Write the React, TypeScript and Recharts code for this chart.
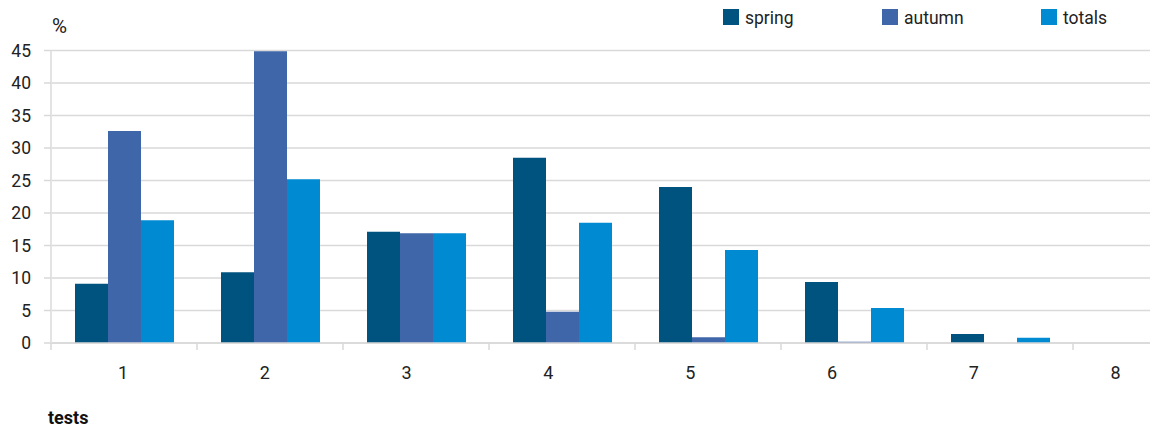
import { BarChart, Bar, XAxis, YAxis, CartesianGrid, Legend } from "recharts";

const tests = ["1", "2", "3", "4", "5", "6", "7", "8"];
const spring = [9.1, 10.9, 17.1, 28.5, 24.0, 9.4, 1.4, 0];
const autumn = [32.6, 44.9, 16.9, 4.8, 0.9, 0.2, 0, 0];
const totals = [18.9, 25.2, 16.9, 18.5, 14.3, 5.4, 0.8, 0];
const yTicks = [0, 5, 10, 15, 20, 25, 30, 35, 40, 45];

const series = [
  { key: "spring", color: "#00527F" },
  { key: "autumn", color: "#4066AA" },
  { key: "totals", color: "#008AD2" },
];

const data = tests.map((t, i) => ({
  test: t,
  spring: spring[i],
  autumn: autumn[i],
  totals: totals[i],
}));

// chart is wider than the window, the 8th group gets cut off like the original
const CHART_W = 1230;
const CHART_H = 430;
const MARGIN = { top: 50.5, right: 11, bottom: 47, left: 0 };
const Y_W = 51;
const band = (CHART_W - MARGIN.left - MARGIN.right - Y_W) / tests.length;

const FONT = "Roboto, 'Open Sans', sans-serif";
const GRID = "#d9d9d9";

function XTick(props: any) {
  const { x, y, payload, index } = props;
  return (
    <g>
      <line
        x1={x - band / 2}
        x2={x - band / 2}
        y1={y}
        y2={y + 7}
        stroke={GRID}
        strokeWidth={1.5}
      />
      <text
        x={x - 1 - 4.2 * index}
        y={y + 36}
        textAnchor="middle"
        fontSize={18}
        fontFamily={FONT}
        fill="#222"
      >
        {payload.value}
      </text>
    </g>
  );
}

function LegendBox() {
  return (
    <ul style={{ listStyle: "none", margin: 0, padding: 0, display: "flex" }}>
      {series.map((s) => (
        <li
          key={s.key}
          style={{
            display: "flex",
            alignItems: "flex-end",
            width: 159,
            fontFamily: FONT,
            fontSize: 17.5,
            color: "#222",
            lineHeight: "20px",
          }}
        >
          <span
            style={{
              display: "inline-block",
              width: 16,
              height: 16,
              background: s.color,
              marginRight: 6,
              marginBottom: 3,
            }}
          />
          <span>{s.key}</span>
        </li>
      ))}
    </ul>
  );
}

export default function App() {
  return (
    <div
      style={{
        position: "fixed",
        left: 0,
        top: 0,
        width: 1150,
        height: 430,
        overflow: "hidden",
        background: "#fff",
      }}
    >
      <BarChart
        width={CHART_W}
        height={CHART_H}
        data={data}
        margin={MARGIN}
        barCategoryGap={24}
        barGap={0}
      >
        <CartesianGrid vertical={false} stroke={GRID} strokeWidth={1.5} />
        <XAxis
          dataKey="test"
          interval={0}
          height={40}
          tickSize={0}
          tickMargin={0}
          tickLine={false}
          axisLine={{ stroke: GRID, strokeWidth: 1.5 }}
          tick={<XTick />}
          label={({ viewBox }: any) => (
            <text
              x={viewBox.x - 3}
              y={viewBox.y + 81}
              fontSize={18}
              fontWeight="bold"
              fontFamily={FONT}
              fill="#111"
            >
              tests
            </text>
          )}
        />
        <YAxis
          width={Y_W}
          domain={[0, 45]}
          ticks={yTicks}
          interval={0}
          tickSize={7}
          tickMargin={13}
          axisLine={{ stroke: "#e3e3e3", strokeWidth: 2 }}
          tickLine={{ stroke: GRID, strokeWidth: 1.5 }}
          tick={{ fontSize: 17.5, fontFamily: FONT, fill: "#222" }}
          label={({ viewBox }: any) => (
            <text
              x={viewBox.x + viewBox.width + 1}
              y={viewBox.y - 17.5}
              fontSize={20.5}
              fontFamily={FONT}
              fill="#222"
            >
              %
            </text>
          )}
        />
        <Legend
          verticalAlign="middle"
          align="center"
          content={() => <LegendBox />}
          wrapperStyle={{ top: 8, left: 723, width: 480 }}
        />
        {series.map((s) => (
          <Bar
            key={s.key}
            dataKey={s.key}
            fill={s.color}
            isAnimationActive={false}
          />
        ))}
      </BarChart>
    </div>
  );
}
